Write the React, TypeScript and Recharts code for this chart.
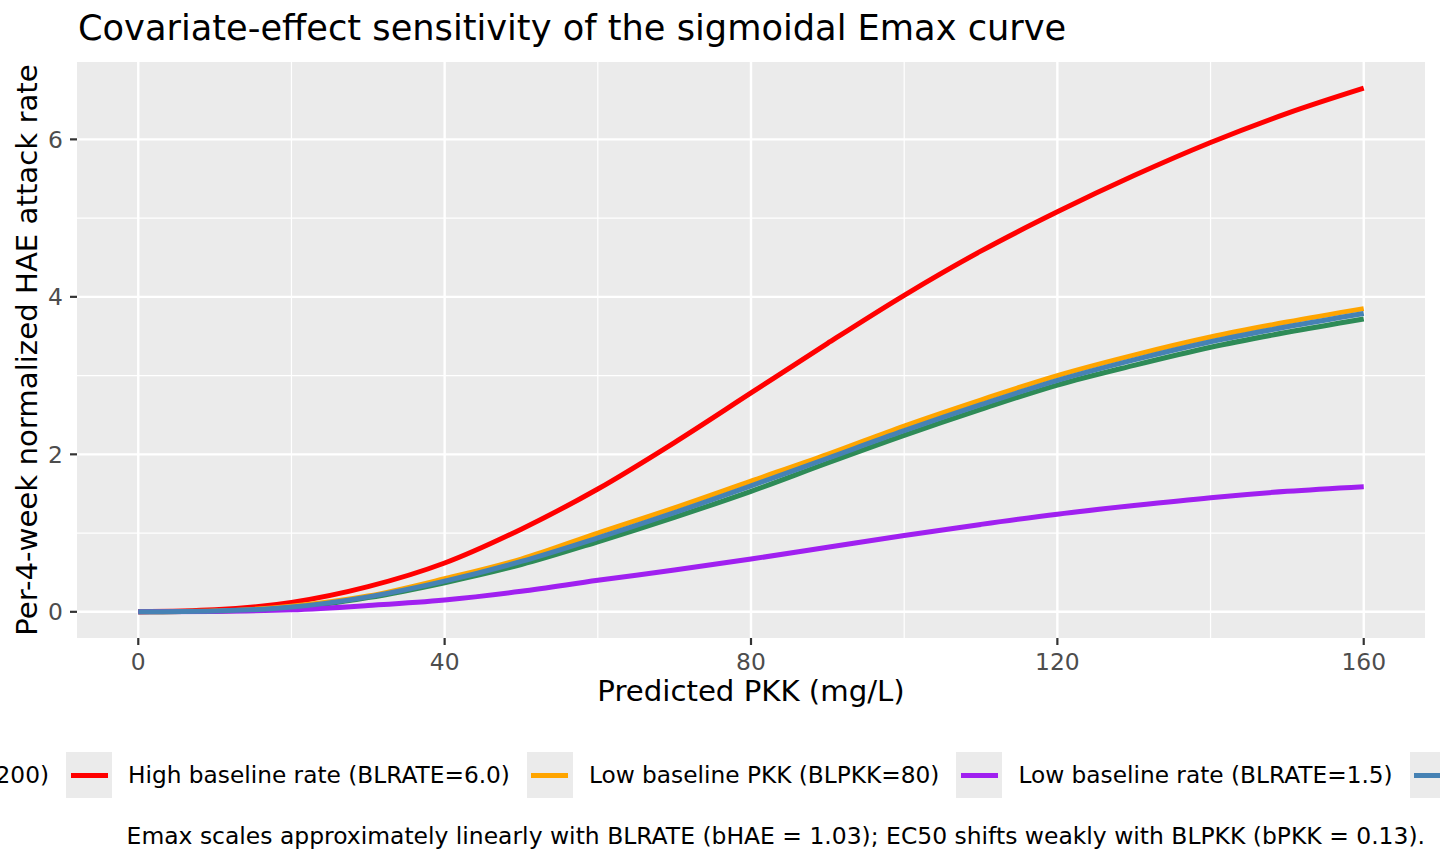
import React from 'react';
import { LineChart, Line, XAxis, YAxis, CartesianGrid } from 'recharts';

// ---- data ----
const pkk = [0, 10, 20, 30, 40, 50, 60, 70, 80, 90, 100, 110, 120, 130, 140, 150, 160];
const highPkk = [0, 0.01, 0.05, 0.18, 0.37, 0.6, 0.89, 1.2, 1.53, 1.89, 2.24, 2.57, 2.88, 3.13, 3.36, 3.55, 3.72];
const highRate = [0, 0.025, 0.12, 0.32, 0.62, 1.05, 1.56, 2.15, 2.78, 3.41, 4.02, 4.58, 5.08, 5.54, 5.96, 6.33, 6.65];
const lowPkk = [0, 0.01, 0.07, 0.2, 0.42, 0.67, 1.0, 1.32, 1.66, 2.0, 2.36, 2.69, 3.0, 3.26, 3.49, 3.68, 3.85];
const lowRate = [0, 0.005, 0.025, 0.08, 0.15, 0.26, 0.4, 0.53, 0.67, 0.82, 0.97, 1.11, 1.24, 1.35, 1.45, 1.53, 1.59];
const reference = [0, 0.01, 0.06, 0.19, 0.39, 0.64, 0.94, 1.26, 1.6, 1.95, 2.3, 2.63, 2.94, 3.2, 3.43, 3.62, 3.79];

const seriesKeys = ['highPkk', 'highRate', 'lowPkk', 'lowRate', 'reference'];
const seriesNames = [
  'High baseline PKK (BLPKK=200)',
  'High baseline rate (BLRATE=6.0)',
  'Low baseline PKK (BLPKK=80)',
  'Low baseline rate (BLRATE=1.5)',
  'Reference (typical patient)',
];
const seriesColors = ['#2E8B57', '#FF0000', '#FFA500', '#A020F0', '#4682B4'];
const seriesValues = [highPkk, highRate, lowPkk, lowRate, reference];

const xTicks = [0, 40, 80, 120, 160];
const yTicks = [0, 2, 4, 6];
const xMinor = [20, 60, 100, 140];
const yMinor = [1, 3, 5];

const titleText = 'Covariate-effect sensitivity of the sigmoidal Emax curve';
const xTitle = 'Predicted PKK (mg/L)';
const yTitle = 'Per-4-week normalized HAE attack rate';
const captionText =
  'Emax scales approximately linearly with BLRATE (bHAE = 1.03); EC50 shifts weakly with BLPKK (bPKK = 0.13).';

const data = pkk.map((x, i) => {
  const row: Record<string, number> = { pkk: x };
  seriesKeys.forEach((k, j) => {
    row[k] = seriesValues[j][i];
  });
  return row;
});

const FONT = '"DejaVu Sans", Verdana, sans-serif';
const SMALL = 23.4;
const LEG = 23.25;
const CAP = 23.45;
const MID = 29.2;
const BIG = 35.2;

const LegendItem = ({ name, color }: { name: string; color: string }) => (
  <div style={{ display: 'flex', alignItems: 'center', flex: '0 0 auto' }}>
    <div
      style={{
        width: 46,
        height: 46,
        background: '#EBEBEB',
        position: 'relative',
        flex: '0 0 auto',
      }}
    >
      <div
        style={{
          position: 'absolute',
          left: 4.5,
          top: 20.5,
          width: 37,
          height: 5,
          background: color,
        }}
      />
    </div>
    <div
      style={{
        marginLeft: 16,
        marginRight: 17,
        fontSize: LEG,
        lineHeight: `${LEG}px`,
        whiteSpace: 'nowrap',
        color: '#000',
      }}
    >
      {name}
    </div>
  </div>
);

export default function App() {
  return (
    <div
      style={{
        position: 'absolute',
        left: 0,
        top: 0,
        width: 1440,
        height: 864,
        background: '#FFFFFF',
        overflow: 'hidden',
        fontFamily: FONT,
      }}
    >
      <LineChart
        width={1440}
        height={864}
        data={data}
        margin={{ top: 62, right: 15, bottom: 0, left: 0 }}
        style={{ fontFamily: FONT }}
      >
        <CartesianGrid
          fill="#EBEBEB"
          stroke="#FFFFFF"
          strokeWidth={1.2}
          horizontalValues={yMinor}
          verticalValues={xMinor}
        />
        <CartesianGrid
          fill="none"
          stroke="#FFFFFF"
          strokeWidth={2.4}
          horizontalValues={yTicks}
          verticalValues={xTicks}
        />
        <XAxis
          dataKey="pkk"
          type="number"
          domain={[-8, 168]}
          ticks={xTicks}
          allowDataOverflow
          height={226}
          axisLine={false}
          tickSize={7}
          tickMargin={8}
          tickLine={{ stroke: '#333333', strokeWidth: 2.2 }}
          tick={{ fontSize: SMALL, fill: '#4D4D4D', fontFamily: FONT }}
          label={(props: any) => {
            const vb = props.viewBox || {};
            return (
              <text
                x={vb.x + vb.width / 2}
                y={vb.y + 63}
                textAnchor="middle"
                fontSize={MID}
                fill="#000000"
                fontFamily={FONT}
              >
                {xTitle}
              </text>
            );
          }}
        />
        <YAxis
          type="number"
          domain={[-0.3325, 6.9825]}
          ticks={yTicks}
          allowDataOverflow
          width={77}
          axisLine={false}
          tickSize={7}
          tickMargin={7}
          tickLine={{ stroke: '#333333', strokeWidth: 2.2 }}
          tick={{ fontSize: SMALL, fill: '#4D4D4D', fontFamily: FONT }}
          label={(props: any) => {
            const vb = props.viewBox || {};
            const cy = vb.y + vb.height / 2;
            return (
              <text
                x={37}
                y={cy}
                transform={`rotate(-90 37 ${cy})`}
                textAnchor="middle"
                fontSize={MID}
                fill="#000000"
                fontFamily={FONT}
              >
                {yTitle}
              </text>
            );
          }}
        />
        {seriesKeys.map((k, i) => (
          <Line
            key={k}
            dataKey={k}
            name={seriesNames[i]}
            type="monotone"
            stroke={seriesColors[i]}
            strokeWidth={5}
            dot={false}
            activeDot={false}
            isAnimationActive={false}
          />
        ))}
      </LineChart>

      {/* title */}
      <svg
        width={1440}
        height={60}
        style={{ position: 'absolute', left: 0, top: 0, pointerEvents: 'none' }}
      >
        <text x={78} y={40} fontSize={BIG} fill="#000000" fontFamily={FONT}>
          {titleText}
        </text>
      </svg>

      {/* legend: first item overflows to the left, as in the reference */}
      <div
        style={{
          position: 'absolute',
          right: 1440 - 66,
          top: 752,
          height: 46,
          display: 'flex',
          justifyContent: 'flex-end',
        }}
      >
        <LegendItem name={seriesNames[0]} color={seriesColors[0]} />
      </div>
      <div
        style={{
          position: 'absolute',
          left: 66,
          top: 752,
          height: 46,
          display: 'flex',
          whiteSpace: 'nowrap',
        }}
      >
        {seriesNames.slice(1).map((n, i) => (
          <LegendItem key={n} name={n} color={seriesColors[i + 1]} />
        ))}
      </div>

      {/* caption */}
      <div
        style={{
          position: 'absolute',
          right: 15,
          top: 825,
          fontSize: CAP,
          lineHeight: `${CAP}px`,
          whiteSpace: 'nowrap',
          color: '#000',
        }}
      >
        {captionText}
      </div>
    </div>
  );
}
